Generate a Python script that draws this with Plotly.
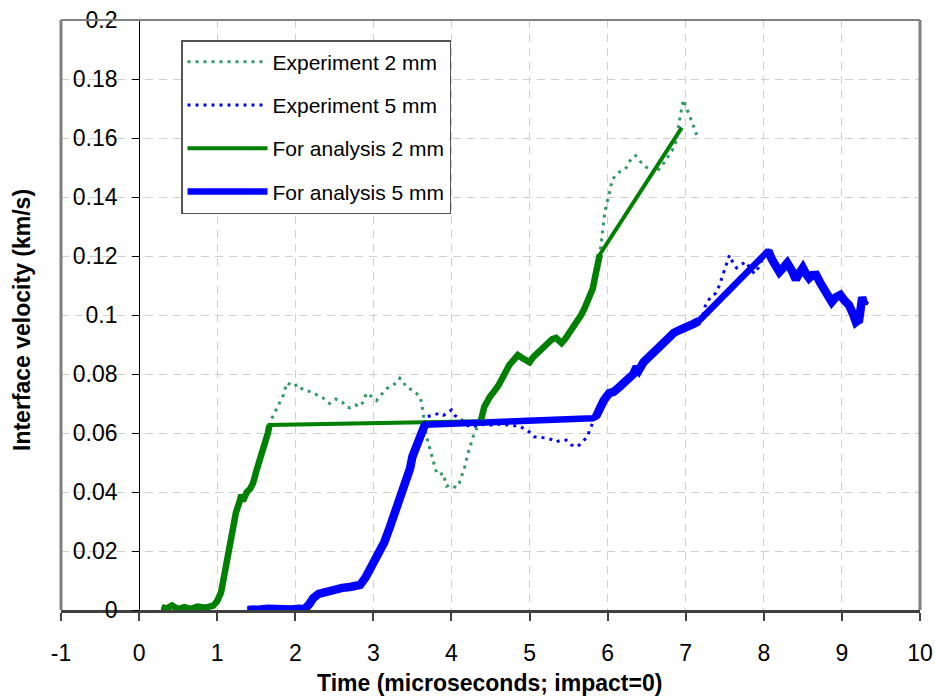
import plotly.graph_objects as go

# ---------------- data ----------------
# shared early rise, 2 mm (experiment and analysis coincide)
t_rise1_2 = [0.29, 0.35, 0.42, 0.5, 0.58, 0.66, 0.75, 0.85, 0.95, 1.0, 1.05, 1.08, 1.12, 1.16, 1.2,
             1.24, 1.29, 1.31, 1.33, 1.38, 1.42, 1.46, 1.5, 1.55, 1.59, 1.62, 1.65, 1.67]
v_rise1_2 = [0.001, 0.0005, 0.0015, 0.0003, 0.001, 0.0004, 0.0012, 0.0008, 0.0015, 0.003, 0.006, 0.01,
             0.016, 0.021, 0.028, 0.033, 0.037, 0.039, 0.037, 0.040, 0.041, 0.043, 0.047, 0.051, 0.054,
             0.057, 0.060, 0.0627]
# experiment 2 mm plateau / dip (differs from analysis)
t_exp2_mid = [1.68, 1.72, 1.76, 1.8, 1.85, 1.89, 1.93, 1.97, 2.03, 2.1, 2.17, 2.24, 2.3, 2.36, 2.44, 2.52,
              2.6, 2.65, 2.7, 2.77, 2.83, 2.88, 2.91, 2.97, 3.04, 3.1, 3.17, 3.23, 3.3, 3.34, 3.38, 3.42,
              3.5, 3.55, 3.6, 3.62, 3.65, 3.68, 3.72, 3.75, 3.78, 3.81, 3.85, 3.89, 3.94, 3.98, 4.02,
              4.06, 4.1, 4.14, 4.17, 4.2, 4.23, 4.28, 4.33]
v_exp2_mid = [0.064, 0.066, 0.068, 0.070, 0.073, 0.077, 0.0765, 0.0757, 0.0765, 0.0746, 0.0742, 0.0735,
              0.0725, 0.0718, 0.070, 0.0715, 0.0705, 0.069, 0.0685, 0.0695, 0.069, 0.071, 0.0735, 0.0725,
              0.071, 0.073, 0.075, 0.076, 0.077, 0.0786, 0.0775, 0.0756, 0.0745, 0.0735, 0.072, 0.070,
              0.064, 0.0587, 0.055, 0.052, 0.049, 0.0464, 0.0458, 0.0464, 0.042, 0.0425, 0.042, 0.0415,
              0.043, 0.046, 0.0485, 0.052, 0.055, 0.059, 0.062]
# shared second rise, 2 mm
t_rise2_2 = [4.38, 4.42, 4.49, 4.54, 4.58, 4.62, 4.66, 4.7, 4.74, 4.8, 4.85, 4.9, 4.94, 5.0, 5.05, 5.1,
             5.16, 5.23, 5.29, 5.34, 5.38, 5.41, 5.46, 5.51, 5.56, 5.6, 5.66, 5.7, 5.73, 5.77, 5.81,
             5.84, 5.87, 5.9]
v_rise2_2 = [0.0645, 0.0688, 0.0722, 0.0735, 0.0753, 0.077, 0.0786, 0.081, 0.083, 0.085, 0.0864, 0.0855,
             0.0847, 0.084, 0.0858, 0.087, 0.0885, 0.0905, 0.0918, 0.0922, 0.091, 0.0905, 0.092, 0.0939,
             0.0955, 0.0973, 0.100, 0.102, 0.104, 0.106, 0.109, 0.113, 0.1176, 0.1205]
# experiment 2 mm end
t_exp2_end = [5.92, 5.94, 5.96, 5.98, 6.02, 6.06, 6.1, 6.15, 6.2, 6.24, 6.28, 6.32, 6.36, 6.4, 6.45, 6.5,
              6.56, 6.62, 6.67, 6.72, 6.78, 6.83, 6.88, 6.92, 6.97, 7.0, 7.05, 7.1, 7.14]
v_exp2_end = [0.125, 0.13, 0.134, 0.137, 0.141, 0.146, 0.147, 0.1485, 0.149, 0.150, 0.152, 0.1536, 0.154,
              0.1525, 0.151, 0.150, 0.149, 0.148, 0.150, 0.1515, 0.154, 0.156, 0.159, 0.166, 0.173, 0.171,
              0.168, 0.164, 0.161]
# analysis 2 mm straight segments
t_ana2_plateau_end = 4.36
v_ana2_plateau_end = 0.0640
t_ana2_final = 6.95
v_ana2_final = 0.1635

# shared early rise, 5 mm
t_rise1_5 = [1.39, 1.45, 1.55, 1.65, 1.75, 1.85, 1.95, 2.05, 2.12, 2.18, 2.23, 2.3, 2.37, 2.44, 2.52, 2.6,
             2.7, 2.78, 2.83, 2.9, 2.95, 3.02, 3.08, 3.14, 3.21, 3.25, 3.3, 3.36, 3.43, 3.47, 3.5, 3.55,
             3.59, 3.63, 3.66]
v_rise1_5 = [0.0, 0.0003, 0.0002, 0.0004, 0.0001, 0.0003, 0.0002, 0.0004, 0.0003, 0.002, 0.004, 0.0055,
             0.006, 0.0068, 0.0072, 0.0075, 0.0078, 0.008, 0.0085, 0.011, 0.0135, 0.016, 0.019, 0.023,
             0.028, 0.031, 0.035, 0.039, 0.044, 0.048, 0.052, 0.055, 0.0576, 0.0605, 0.0628]
# experiment 5 mm plateau
t_exp5_mid = [3.68, 3.75, 3.8, 3.85, 3.9, 3.95, 4.0, 4.04, 4.07, 4.15, 4.23, 4.3, 4.36, 4.45, 4.55, 4.62,
              4.7, 4.8, 4.87, 4.93, 5.0, 5.06, 5.13, 5.21, 5.28, 5.34, 5.4, 5.47, 5.53, 5.6, 5.64, 5.68,
              5.74, 5.77, 5.81]
v_exp5_mid = [0.0655, 0.066, 0.0665, 0.0667, 0.066, 0.067, 0.0678, 0.066, 0.0655, 0.064, 0.062, 0.0625,
              0.0627, 0.063, 0.0625, 0.063, 0.0627, 0.0625, 0.0624, 0.0615, 0.0603, 0.0587, 0.0585,
              0.0583, 0.0578, 0.057, 0.0575, 0.0576, 0.056, 0.0553, 0.056, 0.057, 0.0587, 0.061, 0.0634]
# shared second rise, 5 mm
t_rise2_5 = [5.85, 5.9, 5.95, 6.02, 6.08, 6.15, 6.22, 6.28, 6.33, 6.37, 6.4, 6.46, 6.53, 6.6, 6.66, 6.72,
             6.79, 6.85, 6.92, 6.98, 7.05, 7.1, 7.17]
v_rise2_5 = [0.0655, 0.069, 0.071, 0.0735, 0.074, 0.0756, 0.077, 0.079, 0.080, 0.0824, 0.0813, 0.084,
             0.0858, 0.088, 0.089, 0.091, 0.0925, 0.094, 0.0949, 0.0955, 0.096, 0.097, 0.098]
# experiment 5 mm between rise and peak
t_exp5_gap = [7.22, 7.26, 7.32, 7.39, 7.43, 7.47, 7.52, 7.56, 7.6, 7.65, 7.7, 7.77, 7.82, 7.88, 7.93, 7.98]
v_exp5_gap = [0.100, 0.104, 0.106, 0.1075, 0.110, 0.113, 0.117, 0.1203, 0.118, 0.116, 0.117, 0.118, 0.116,
              0.114, 0.116, 0.119]
# shared tail, 5 mm
t_tail_5 = [8.04, 8.07, 8.1, 8.15, 8.2, 8.25, 8.3, 8.36, 8.41, 8.45, 8.5, 8.54, 8.58, 8.62, 8.67, 8.72,
            8.77, 8.82, 8.87, 8.92, 8.98, 9.03, 9.09, 9.14, 9.18, 9.2, 9.22, 9.24, 9.26, 9.28, 9.3]
v_tail_5 = [0.1213, 0.121, 0.119, 0.117, 0.1146, 0.116, 0.1176, 0.115, 0.112, 0.114, 0.116, 0.114, 0.1125,
            0.1135, 0.1136, 0.111, 0.109, 0.1065, 0.1044, 0.106, 0.1068, 0.105, 0.1034, 0.1005, 0.0976,
            0.098, 0.0983, 0.102, 0.106, 0.104, 0.105]
t_ana5_plateau_end = 5.81
v_ana5_plateau_end = 0.065

x_ticks = list(range(-1, 11))
x_tick_text = ["-1", "0", "1", "2", "3", "4", "5", "6", "7", "8", "9", "10"]
y_ticks = [0, 0.02, 0.04, 0.06, 0.08, 0.1, 0.12, 0.14, 0.16, 0.18, 0.2]
y_tick_text = ["0", "0.02", "0.04", "0.06", "0.08", "0.1", "0.12", "0.14", "0.16", "0.18", "0.2"]

# ---------------- assembled series ----------------
exp2_t = t_rise1_2 + t_exp2_mid + t_rise2_2 + t_exp2_end
exp2_v = v_rise1_2 + v_exp2_mid + v_rise2_2 + v_exp2_end
ana2_t = t_rise1_2 + [t_ana2_plateau_end] + t_rise2_2 + [t_ana2_final]
ana2_v = v_rise1_2 + [v_ana2_plateau_end] + v_rise2_2 + [v_ana2_final]
exp5_t = t_rise1_5 + t_exp5_mid + t_rise2_5 + t_exp5_gap + t_tail_5
exp5_v = v_rise1_5 + v_exp5_mid + v_rise2_5 + v_exp5_gap + v_tail_5
ana5_t = t_rise1_5 + [t_ana5_plateau_end] + t_rise2_5 + t_tail_5
ana5_v = v_rise1_5 + [v_ana5_plateau_end] + v_rise2_5 + v_tail_5

FONT = "Liberation Sans, Arial, sans-serif"
GREEN_EXP = "#339966"
GREEN = "#008000"
BLUE = "#0000FF"

fig = go.Figure()
fig.add_trace(go.Scatter(x=exp2_t, y=exp2_v, mode="lines", name="Experiment 2 mm",
                         line=dict(color=GREEN_EXP, width=3, dash="3px,5px"), legendgroup="a"))
fig.add_trace(go.Scatter(x=exp5_t, y=exp5_v, mode="lines", name="Experiment 5 mm",
                         line=dict(color=BLUE, width=3, dash="3px,5px"), legendgroup="b"))
fig.add_trace(go.Scatter(x=ana2_t, y=ana2_v, mode="lines", name="For analysis 2 mm",
                         line=dict(color=GREEN, width=4), legendgroup="c"))
fig.add_trace(go.Scatter(x=ana5_t, y=ana5_v, mode="lines", name="For analysis 5 mm",
                         line=dict(color=BLUE, width=6.5), legendgroup="d"))
# thicker noisy measured portions of the analysis curves
for tt, vv, col, w, grp in [
    (t_rise1_2, v_rise1_2, GREEN, 6.5, "c"),
    (t_rise2_2, v_rise2_2, GREEN, 6.5, "c"),
    (t_rise1_5, v_rise1_5, BLUE, 8.5, "d"),
    (t_rise2_5, v_rise2_5, BLUE, 8.5, "d"),
    (t_tail_5, v_tail_5, BLUE, 8.5, "d"),
]:
    fig.add_trace(go.Scatter(x=tt, y=vv, mode="lines", line=dict(color=col, width=w),
                             showlegend=False, legendgroup=grp, hoverinfo="skip"))

grid = dict(showgrid=True, gridcolor="#d0d0d0", gridwidth=1, griddash="8px,6px", zeroline=False,
            automargin=False)

fig.update_layout(
    width=935, height=700,
    margin=dict(l=61, r=15, t=20, b=90),
    paper_bgcolor="white", plot_bgcolor="white",
    font=dict(family=FONT, size=21, color="black"),
    showlegend=True,
    legend=dict(x=(181 - 61) / 859, y=(610 - 40) / 590, xanchor="left", yanchor="top",
                bgcolor="white", bordercolor="#555555", borderwidth=1.5,
                font=dict(family=FONT, size=21), traceorder="grouped", tracegroupgap=13,
                itemwidth=80),
    xaxis=dict(range=[-1, 10], tickmode="array", tickvals=x_ticks, ticktext=x_tick_text,
               ticks="outside", ticklen=8, tickcolor="#404040", tickwidth=1.5, showline=True,
               linecolor="#404040", linewidth=2.5, ticklabelstandoff=13,
               tickfont=dict(family=FONT, size=23), **grid),
    yaxis=dict(range=[0, 0.2], tickmode="array", tickvals=y_ticks, ticktext=y_tick_text,
               ticks="outside", ticklen=7, tickcolor="black", anchor="free", position=1 / 11,
               showline=True, linecolor="black", linewidth=1, ticklabelstandoff=10,
               tickfont=dict(family=FONT, size=23), **grid),
    shapes=[
        dict(type="line", xref="x domain", yref="y domain", x0=0, x1=0, y0=0, y1=1,
             line=dict(color="#808080", width=3)),
        dict(type="line", xref="x domain", yref="y domain", x0=1, x1=1, y0=0, y1=1,
             line=dict(color="#808080", width=3)),
        dict(type="line", xref="x domain", yref="y domain", x0=0, x1=1, y0=1, y1=1,
             line=dict(color="#808080", width=2)),
    ],
    annotations=[
        dict(text="<b>Time (microseconds; impact=0)</b>", xref="paper", yref="paper",
             x=(489 - 61) / 859, y=(610 - 683) / 590, xanchor="center", yanchor="middle",
             showarrow=False, font=dict(family=FONT, size=23)),
        dict(text="<b>Interface velocity (km/s)</b>", xref="paper", yref="paper",
             x=(22 - 61) / 859, y=(610 - 320) / 590, xanchor="center", yanchor="middle",
             textangle=-90, showarrow=False, font=dict(family=FONT, size=23)),
    ],
)

fig.write_html("out.html")
